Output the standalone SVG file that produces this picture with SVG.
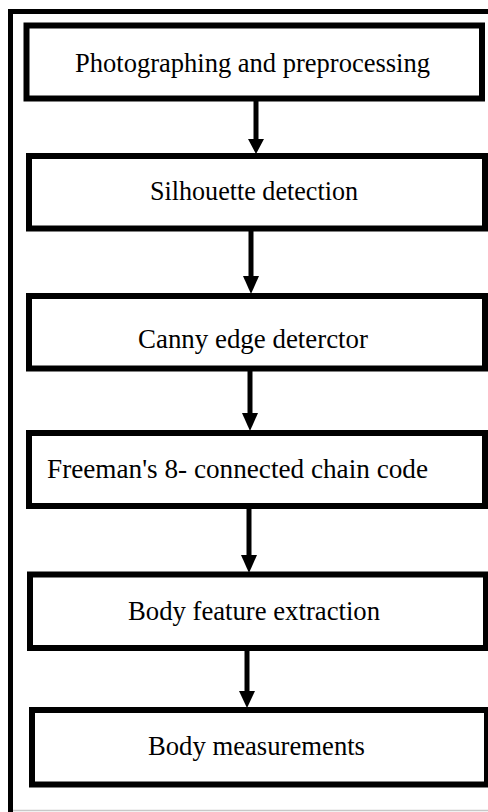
<svg xmlns="http://www.w3.org/2000/svg" width="488" height="812" viewBox="0 0 488 812">
<style>
.box{fill:#fff;stroke:#000;stroke-width:6}
.lbl{font-size:26.5px;fill:#000}
.edge{stroke:#000;stroke-width:5;fill:none}
.head{fill:#000}
</style>
<rect x="0" y="0" width="488" height="812" fill="#fff"/>
<g id="frame">
<path d="M10.5 812 V11.5 H490" fill="none" stroke="#000" stroke-width="5"/>
<line x1="13" y1="810.5" x2="488" y2="810.5" stroke="#c8c8c8" stroke-width="1.5"/>
</g>
<g font-family="'Liberation Serif', 'Tinos', 'Times New Roman', 'DejaVu Serif', serif">
<g id="n1"><rect class="box" x="26.5" y="25.5" width="455.5" height="73"/><text class="lbl" x="75" y="72" textLength="355" lengthAdjust="spacingAndGlyphs">Photographing and preprocessing</text></g>
<g id="n2"><rect class="box" x="29" y="156" width="456" height="72.5"/><text class="lbl" x="150" y="200" textLength="208" lengthAdjust="spacingAndGlyphs">Silhouette detection</text></g>
<g id="n3"><rect class="box" x="29" y="296" width="456" height="72.5"/><text class="lbl" x="138" y="348" textLength="230" lengthAdjust="spacingAndGlyphs">Canny edge deterctor</text></g>
<g id="n4"><rect class="box" x="29" y="433" width="456" height="73"/><text class="lbl" x="47" y="478" textLength="381" lengthAdjust="spacingAndGlyphs">Freeman's 8- connected chain code</text></g>
<g id="n5"><rect class="box" x="30" y="574.5" width="456" height="73.5"/><text class="lbl" x="128" y="620" textLength="252" lengthAdjust="spacingAndGlyphs">Body feature extraction</text></g>
<g id="n6"><rect class="box" x="32" y="710" width="455" height="74.5"/><text class="lbl" x="148" y="755" textLength="217" lengthAdjust="spacingAndGlyphs">Body measurements</text></g>
</g>
<g id="connectors">
<line class="edge" x1="256" y1="98" x2="256" y2="140"/><polygon class="head" points="248,139 264,139 256,154"/>
<line class="edge" x1="251" y1="231" x2="251" y2="277"/><polygon class="head" points="243,276 259,276 251,294"/>
<line class="edge" x1="250" y1="371" x2="250" y2="414"/><polygon class="head" points="242,413 258,413 250,431"/>
<line class="edge" x1="249" y1="509" x2="249" y2="556"/><polygon class="head" points="241,555 257,555 249,573"/>
<line class="edge" x1="247" y1="650" x2="247" y2="692"/><polygon class="head" points="239,691 255,691 247,708"/>
</g>
</svg>
